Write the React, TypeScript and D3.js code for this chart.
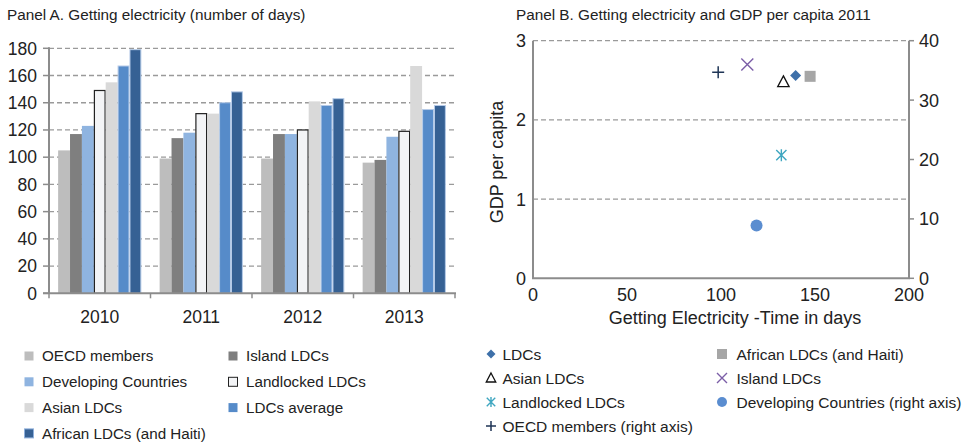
import React from "react";
import * as d3 from "d3";

const years = ["2010", "2011", "2012", "2013"];
const seriesNames = [
  "OECD members",
  "Island LDCs",
  "Developing Countries",
  "Landlocked LDCs",
  "Asian LDCs",
  "LDCs average",
  "African LDCs (and Haiti)",
];
const oecdDays = [105, 99, 99, 96];
const islandDays = [117, 114, 117, 98];
const developingDays = [123, 118, 117, 115];
const landlockedDays = [149, 132, 120, 119];
const asianDays = [155, 132, 141, 167];
const ldcAvgDays = [167, 140, 138, 135];
const africanDays = [179, 148, 143, 138];
const seriesValues = [oecdDays, islandDays, developingDays, landlockedDays, asianDays, ldcAvgDays, africanDays];
const barTicks = [0, 20, 40, 60, 80, 100, 120, 140, 160, 180];

// Panel B
const scatterNames = ["LDCs", "African LDCs (and Haiti)", "Asian LDCs", "Island LDCs", "Landlocked LDCs", "Developing Countries (right axis)", "OECD members (right axis)"];
const scatterDays = [139.7, 147.4, 133.2, 114, 132.1, 118.9, 98.5];
const scatterGdp = [2.56, 2.55, 2.48, 2.7, 1.555, 8.9, 34.7];
const scatterAxis = ["left", "left", "left", "left", "left", "right", "right"];
const leftTicks = [0, 1, 2, 3];
const rightTicks = [0, 10, 20, 30, 40];
const xTicksB = [0, 50, 100, 150, 200];

const FONT = "'Liberation Sans', Arial, Helvetica, sans-serif";
const TXT = "#222";
const AXIS = "#8c8c8c";
const GRID = "#9a9a9a";

const barFill = ["#bdbdbd", "#7f7f7f", "#8fb4e0", "#f3f4f6", "#d9d9d9", "#568bc9", "#366194"];
const barStroke = ["none", "none", "none", "#222", "none", "#b6cbe8", "#b6cbe8"];

const markerColor: Record<string, string> = {
  "LDCs": "#3e70a9",
  "African LDCs (and Haiti)": "#a6a6a6",
  "Asian LDCs": "#111",
  "Island LDCs": "#7b5ea7",
  "Landlocked LDCs": "#3ea6c0",
  "Developing Countries (right axis)": "#5a8dd0",
  "OECD members (right axis)": "#1f3556",
};

function Marker({ name, x, y, s }: { name: string; x: number; y: number; s: number }) {
  const c = markerColor[name];
  const h = s / 2;
  switch (name) {
    case "LDCs":
      return <path d={`M${x},${y - h}L${x + h},${y}L${x},${y + h}L${x - h},${y}Z`} fill={c} />;
    case "African LDCs (and Haiti)":
      return <rect x={x - h} y={y - h} width={s} height={s} fill={c} />;
    case "Asian LDCs":
      return <path d={`M${x},${y - h}L${x + h * 0.95},${y + h * 0.8}L${x - h * 0.95},${y + h * 0.8}Z`} fill="none" stroke={c} strokeWidth={1.3} />;
    case "Island LDCs":
      return <path d={`M${x - h},${y - h}L${x + h},${y + h}M${x - h},${y + h}L${x + h},${y - h}`} stroke={c} strokeWidth={1.4} />;
    case "Landlocked LDCs":
      return (
        <path
          d={`M${x},${y - h}L${x},${y + h}M${x - h * 0.85},${y - h * 0.85}L${x + h * 0.85},${y + h * 0.85}M${x - h * 0.85},${y + h * 0.85}L${x + h * 0.85},${y - h * 0.85}`}
          stroke={c}
          strokeWidth={1.4}
        />
      );
    case "Developing Countries (right axis)":
      return <circle cx={x} cy={y} r={h} fill={c} />;
    default:
      return <path d={`M${x - h},${y}L${x + h},${y}M${x},${y - h}L${x},${y + h}`} stroke={c} strokeWidth={1.5} />;
  }
}

export default function App() {
  // Panel A geometry
  const aLeft = 49, aRight = 455, aTop = 48.3, aBottom = 293.3;
  const xA = d3.scaleBand<string>().domain(years).range([aLeft, aRight]).paddingInner(0.18).paddingOuter(0.09);
  const xSub = d3.scaleBand<string>().domain(seriesNames).range([0, xA.bandwidth()]).padding(0);
  const yA = d3.scaleLinear().domain([0, 180]).range([aBottom, aTop]);
  const step = xA.step();
  const boundaries = d3.range(years.length + 1).map((i) => aLeft + i * step);

  // Panel B geometry
  const bLeft = 533, bRight = 909, bTop = 40.7, bBottom = 278.3;
  const xB = d3.scaleLinear().domain([0, 200]).range([bLeft, bRight]);
  const yL = d3.scaleLinear().domain([0, 3]).range([bBottom, bTop]);
  const yR = d3.scaleLinear().domain([0, 40]).range([bBottom, bTop]);

  const legendA = [
    { name: seriesNames[0], col: 0, row: 0 },
    { name: seriesNames[2], col: 0, row: 1 },
    { name: seriesNames[4], col: 0, row: 2 },
    { name: seriesNames[6], col: 0, row: 3 },
    { name: seriesNames[1], col: 1, row: 0 },
    { name: seriesNames[3], col: 1, row: 1 },
    { name: seriesNames[5], col: 1, row: 2 },
  ];
  const legendB = [
    { name: scatterNames[0], col: 0, row: 0 },
    { name: scatterNames[2], col: 0, row: 1 },
    { name: scatterNames[4], col: 0, row: 2 },
    { name: scatterNames[6], col: 0, row: 3 },
    { name: scatterNames[1], col: 1, row: 0 },
    { name: scatterNames[3], col: 1, row: 1 },
    { name: scatterNames[5], col: 1, row: 2 },
  ];

  return (
    <svg
      width={968}
      height={442}
      style={{ position: "absolute", left: 0, top: 0, background: "#fff" }}
      fontFamily={FONT}
    >
      <rect width={968} height={442} fill="#fff" />
      {/* Panel A */}
      <text x={7} y={20} fontSize={15.3} fill={TXT}>Panel A. Getting electricity (number of days)</text>
      {barTicks.map((t) => (
        <g key={t}>
          {t > 0 && (
            <line x1={aLeft} x2={aRight} y1={yA(t)} y2={yA(t)} stroke={GRID} strokeWidth={1.3} strokeDasharray="5,3" />
          )}
          <line x1={aLeft - 6} x2={aLeft} y1={yA(t)} y2={yA(t)} stroke={AXIS} strokeWidth={1.5} />
          <text x={37} y={yA(t)} dy="0.36em" fontSize={17.5} textAnchor="end" fill={TXT}>{t}</text>
        </g>
      ))}
      {years.map((yr, yi) => (
        <g key={yr} transform={`translate(${xA(yr)},0)`}>
          {seriesNames.map((s, si) => {
            const v = seriesValues[si][yi];
            const sw = barStroke[si] === "none" ? 0 : si === 3 ? 1.2 : 1;
            return (
              <rect
                key={s}
                x={(xSub(s) as number) + sw / 2}
                y={yA(v)}
                width={xSub.bandwidth() - sw}
                height={yA(0) - yA(v)}
                fill={barFill[si]}
                stroke={barStroke[si]}
                strokeWidth={sw}
              />
            );
          })}
        </g>
      ))}
      <line x1={aLeft} x2={aLeft} y1={aTop - 1} y2={aBottom} stroke={AXIS} strokeWidth={2} />
      <line x1={aLeft - 6} x2={aRight + 1} y1={aBottom} y2={aBottom} stroke={AXIS} strokeWidth={2} />
      {boundaries.map((b, i) => (
        <line key={i} x1={b} x2={b} y1={aBottom} y2={aBottom + 5} stroke={AXIS} strokeWidth={1.5} />
      ))}
      {years.map((yr) => (
        <text key={yr} x={(xA(yr) as number) + xA.bandwidth() / 2} y={yA(0) + 23} dy="0.36em" fontSize={17.5} textAnchor="middle" fill={TXT}>
          {yr}
        </text>
      ))}
      {legendA.map((l) => {
        const si = seriesNames.indexOf(l.name);
        const mx = l.col === 0 ? 24 : 228;
        const my = 356 + l.row * 25.8;
        return (
          <g key={l.name}>
            <rect
              x={mx + 0.5}
              y={my - 4.5}
              width={9}
              height={9}
              fill={barFill[si]}
              stroke={si === 3 ? "#222" : si === 6 ? "#8fb0dc" : "none"}
              strokeWidth={si === 3 || si === 6 ? 1 : 0}
            />
            <text x={mx + 18} y={my} dy="0.36em" fontSize={15.2} fill={TXT}>{l.name}</text>
          </g>
        );
      })}

      {/* Panel B */}
      <text x={516} y={20} fontSize={15.3} fill={TXT}>Panel B. Getting electricity and GDP per capita 2011</text>
      {leftTicks.map((t) => (
        <g key={t}>
          {t > 0 && (
            <line x1={bLeft} x2={bRight} y1={yL(t)} y2={yL(t)} stroke={GRID} strokeWidth={1.2} strokeDasharray="5,3" />
          )}
          <text x={526} y={yL(t)} dy="0.36em" fontSize={18} textAnchor="end" fill={TXT}>{t}</text>
        </g>
      ))}
      {rightTicks.map((t) => (
        <g key={t}>
          <line x1={bRight} x2={bRight + 5} y1={yR(t)} y2={yR(t)} stroke={AXIS} strokeWidth={1.5} />
          <text x={919} y={yR(t)} dy="0.36em" fontSize={18} fill={TXT}>{t}</text>
        </g>
      ))}
      {xTicksB.map((t) => (
        <text key={t} x={xB(t)} y={295} dy="0.36em" fontSize={18} textAnchor="middle" fill={TXT}>{t}</text>
      ))}
      <line x1={bLeft} x2={bLeft} y1={bTop} y2={bBottom} stroke={AXIS} strokeWidth={2} />
      <line x1={bRight} x2={bRight} y1={bTop} y2={bBottom} stroke={AXIS} strokeWidth={2} />
      <line x1={bLeft - 1} x2={bRight + 1} y1={bBottom} y2={bBottom} stroke={AXIS} strokeWidth={2} />
      <text x={735} y={318} dy="0.36em" fontSize={18} textAnchor="middle" fill={TXT}>Getting Electricity -Time in days</text>
      <text transform={`translate(497,162) rotate(-90)`} dy="0.36em" fontSize={18} textAnchor="middle" fill={TXT}>GDP per capita</text>
      {scatterNames.map((n, i) => {
        const y = scatterAxis[i] === "left" ? yL(scatterGdp[i]) : yR(scatterGdp[i]);
        const s = n.startsWith("Developing") ? 12 : n.startsWith("African") ? 11 : n === "LDCs" ? 11 : 12;
        return <Marker key={n} name={n} x={xB(scatterDays[i])} y={y} s={s} />;
      })}
      {legendB.map((l) => {
        const mx = l.col === 0 ? 491 : 722;
        const my = 354 + l.row * 24;
        const s = l.name === "LDCs" ? 9 : 10;
        return (
          <g key={l.name}>
            <Marker name={l.name} x={mx} y={my} s={s} />
            <text x={l.col === 0 ? 502.5 : 736.5} y={my} dy="0.36em" fontSize={15.5} fill={TXT}>{l.name}</text>
          </g>
        );
      })}
    </svg>
  );
}
